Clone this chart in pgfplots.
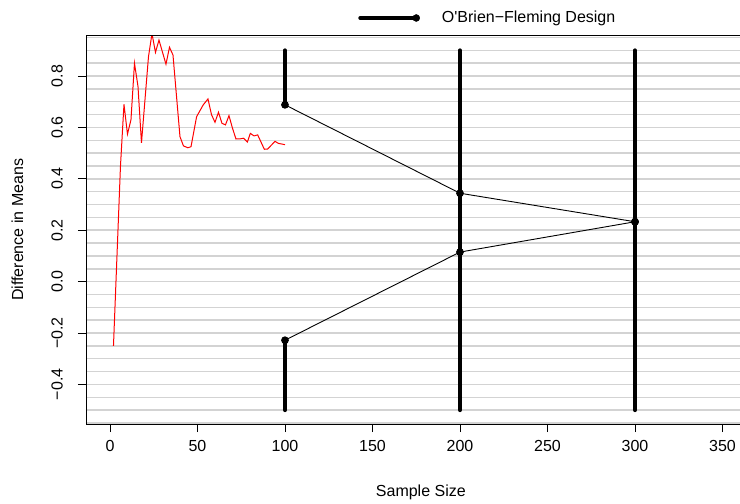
\documentclass[border=0pt]{standalone}
\usepackage{pgfplots}
\pgfplotsset{compat=1.18}
\usepackage{fontspec}
\setmainfont{Liberation Sans}[Ligatures=TeXOff]
\definecolor{gridgray}{RGB}{211,211,211}
\begin{document}
\fontsize{16bp}{18bp}\selectfont
\begin{tikzpicture}
\begin{axis}[
  name=ax,
  at={(0,0)}, anchor=south west,
  scale only axis, width=654bp, height=388.3bp,
  xmin=-13.7, xmax=360, ymin=-0.554, ymax=0.957,
  axis line style={draw=none},
  tick pos=left, tick align=outside,
  major tick length=8bp,
  minor tick length=0pt,
  tick style={black, line width=0.8bp},
  xtick={0,50,100,150,200,250,300,350},
  xticklabels={0,50,100,150,200,250,300,350},
  ytick={-0.4,-0.2,0,0.2,0.4,0.6,0.8},
  yticklabels={−0.4,−0.2,0.0,0.2,0.4,0.6,0.8},
  minor ytick={-0.55,-0.5,-0.45,-0.35,-0.3,-0.25,-0.15,-0.1,-0.05,0.05,0.1,0.15,0.25,0.3,0.35,0.45,0.5,0.55,0.65,0.7,0.75,0.85,0.9,0.95},
  ymajorgrids, yminorgrids,
  major grid style={draw=gridgray, line width=1.5bp},
  minor grid style={draw=gridgray, line width=1.5bp},
  ticklabel style={font=\fontsize{16bp}{18bp}\selectfont},
  yticklabel style={rotate=90, anchor=south, inner sep=0pt, yshift=15bp},
  xticklabel style={anchor=north, inner sep=0pt, yshift=-8bp},
  xlabel={Sample Size},
  ylabel={Difference in Means},
  label style={font=\fontsize{16bp}{18bp}\selectfont},
  xlabel style={at={(axis description cs:0.512,-0.177)}, anchor=center},
  ylabel style={at={(axis description cs:-0.105,0.5)}, anchor=center, rotate=0},
  legend style={at={(axis description cs:0.416,1.0456)}, anchor=west, draw=none, fill=none, inner sep=0pt,
    font=\fontsize{16bp}{18bp}\selectfont},
  legend cell align=left,
]
% legend entry
\addlegendimage{legend image code/.code={\draw[black, line width=4bp, line cap=round] (0bp,0bp) -- (56bp,0bp); \fill[black] (56bp,0bp) circle (3.5bp);}}
\addlegendentry{\hspace{20bp}O'Brien−Fleming Design}
% thick boundary segments
\addplot[forget plot, black, line width=4bp, line cap=round] coordinates {(100,0.688) (100,0.9)};
\addplot[forget plot, black, line width=4bp, line cap=round] coordinates {(100,-0.5) (100,-0.228)};
\addplot[forget plot, black, line width=4bp, line cap=round] coordinates {(200,-0.5) (200,0.9)};
\addplot[forget plot, black, line width=4bp, line cap=round] coordinates {(300,-0.5) (300,0.9)};
% connecting lines
\addplot[forget plot, black, line width=0.9bp, mark=*, mark size=3.4bp] coordinates {(100,0.688) (200,0.344) (300,0.233)};
\addplot[forget plot, black, line width=0.9bp, mark=*, mark size=3.4bp] coordinates {(100,-0.228) (200,0.115) (300,0.233)};
% observed difference in means
\addplot[forget plot, red, line width=1bp] coordinates {
(2,-0.25) (6,0.45) (8,0.69) (10,0.574) (12,0.63) (14,0.85) (16,0.76) (18,0.54)
(22,0.875) (24,0.965) (26,0.892) (28,0.94) (32,0.846) (34,0.912) (36,0.882)
(40,0.564) (42,0.528) (44.5,0.521) (46.3,0.525) (49.5,0.642) (53.3,0.688)
(56,0.711) (58,0.65) (60,0.62) (62,0.659) (64,0.616) (66,0.61) (68,0.646)
(70,0.597) (72,0.555) (74.7,0.556) (76.4,0.558) (78.5,0.543) (80.2,0.577)
(82.3,0.567) (84.4,0.571) (88.2,0.515) (90.1,0.516) (94.3,0.546) (96.2,0.538) (100,0.533)};
\end{axis}
\draw[black, line width=1bp] (ax.north east) -- (ax.north west) -- (ax.south west) -- (ax.south east);
\pgfresetboundingbox
\path[use as bounding box] (-86bp,-80bp) rectangle (654bp,424bp);
\end{tikzpicture}
\end{document}
